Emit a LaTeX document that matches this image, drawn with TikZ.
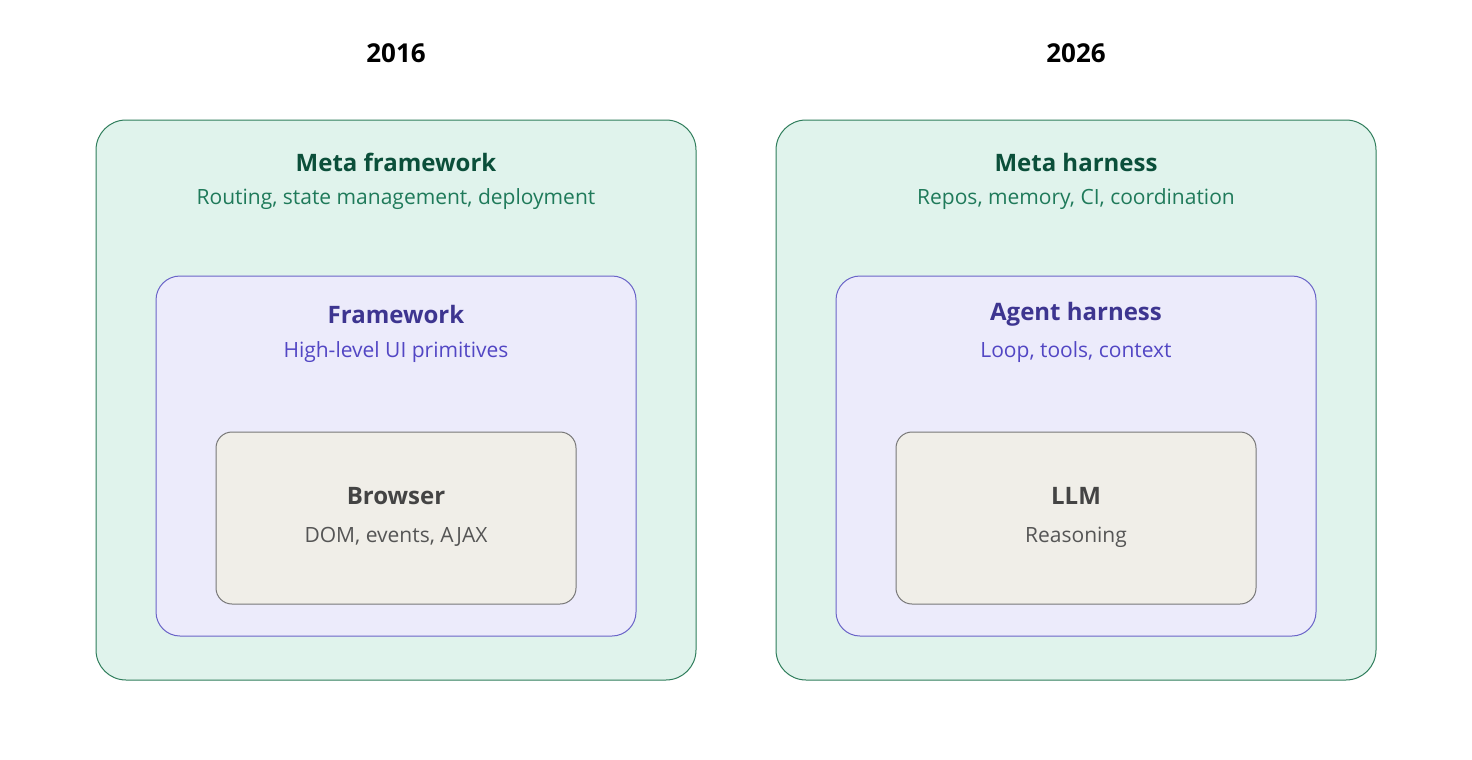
\documentclass[tikz,border=0pt]{standalone}
\usepackage{fontspec}
\setmainfont{Open Sans}
\definecolor{gfill}{HTML}{E0F3EC}\definecolor{gline}{HTML}{2E7D5B}
\definecolor{gtitle}{HTML}{0B4F3A}\definecolor{gsub}{HTML}{1F7A5A}
\definecolor{pfill}{HTML}{ECEBFB}\definecolor{pline}{HTML}{6A64C8}
\definecolor{ptitle}{HTML}{3D3590}\definecolor{psub}{HTML}{5246C4}
\definecolor{bfill}{HTML}{F0EEE8}\definecolor{bline}{HTML}{777777}
\definecolor{btitle}{HTML}{444444}\definecolor{bsub}{HTML}{555555}
\begin{document}
\begin{tikzpicture}[x=1pt,y=-1pt,
 outerbox/.style={draw=gline,fill=gfill,rounded corners=30pt,line width=1pt,minimum width=600pt,minimum height=560pt,inner sep=0pt},
 midbox/.style={draw=pline,fill=pfill,rounded corners=24pt,line width=1pt,minimum width=480pt,minimum height=360pt,inner sep=0pt},
 innerbox/.style={draw=bline,fill=bfill,rounded corners=16pt,line width=1pt,minimum width=360pt,minimum height=172pt,inner sep=0pt},
 year/.style={font=\fontsize{26}{30}\selectfont\bfseries,text=black},
 ttl/.style={font=\fontsize{24}{28}\selectfont\bfseries},
 sub/.style={font=\fontsize{21}{25}\selectfont}]
\useasboundingbox (0,0) rectangle (1472,760);
\foreach \dx/\yr/\a/\as/\b/\bs/\c/\cs/\n in {0/2016/Meta framework/{Routing, state management, deployment}/Framework/High-level UI primitives/Browser/{DOM, events, AJAX}/L,680/2026/Meta harness/{Repos, memory, CI, coordination}/Agent harness/{Loop, tools, context}/LLM/Reasoning/R}{
 \node[year] (yr\n) at (396+\dx,53) {\yr};
 \node[outerbox] (o\n) at (396+\dx,400) {};
 \node[ttl,text=gtitle] (ot\n) at (396+\dx,162) {\a};
 \node[sub,text=gsub] (os\n) at (396+\dx,199) {\as};
 \node[midbox] (m\n) at (396+\dx,456) {};
 \node[ttl,text=ptitle] (mt\n) at (396+\dx,314) {\b};
 \node[sub,text=psub] (ms\n) at (396+\dx,352) {\bs};
 \node[innerbox] (i\n) at (396+\dx,518) {};
 \node[ttl,text=btitle] (it\n) at (396+\dx,496) {\c};
 \node[sub,text=bsub] (is\n) at (396+\dx,537) {\cs};
}
\end{tikzpicture}
\end{document}
